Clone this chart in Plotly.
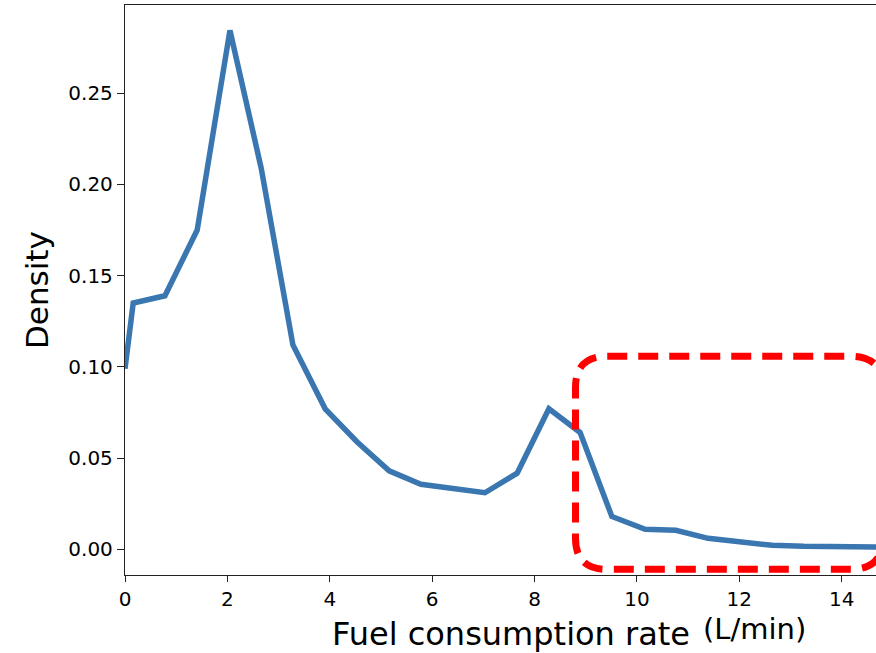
import plotly.graph_objects as go

# Kernel density estimate of fuel consumption rate
rate = [0.0, 0.16, 0.78, 1.41, 2.05, 2.66, 3.28, 3.91, 4.53, 5.16, 5.78, 6.41,
        7.03, 7.66, 8.28, 8.89, 9.51, 10.16, 10.76, 11.39, 12.01, 12.64, 13.26,
        13.89, 14.51, 15.14]
density = [0.099, 0.135, 0.139, 0.175, 0.2845, 0.209, 0.112, 0.077, 0.059,
           0.043, 0.0356, 0.033, 0.031, 0.0417, 0.077, 0.064, 0.018, 0.011,
           0.0104, 0.006, 0.0038, 0.0022, 0.0016, 0.0013, 0.0012, 0.0011]

x_ticks = [0, 2, 4, 6, 8, 10, 12, 14]
y_ticks = [0.00, 0.05, 0.10, 0.15, 0.20, 0.25]

# Highlighted tail region (data coordinates)
box_x0, box_x1 = 8.80, 14.80
box_y0, box_y1 = -0.011, 0.1058
rx, ry = 0.62, 0.017

font_family = "DejaVu Sans"

fig = go.Figure()
fig.add_trace(go.Scatter(
    x=rate, y=density, mode="lines",
    line=dict(color="#3a76b0", width=5.5),
    hoverinfo="skip", showlegend=False,
))

path = (
    f"M {box_x0 + rx} {box_y1} L {box_x1 - rx} {box_y1} "
    f"Q {box_x1} {box_y1} {box_x1} {box_y1 - ry} "
    f"L {box_x1} {box_y0 + ry} "
    f"Q {box_x1} {box_y0} {box_x1 - rx} {box_y0} "
    f"L {box_x0 + rx} {box_y0} "
    f"Q {box_x0} {box_y0} {box_x0} {box_y0 + ry} "
    f"L {box_x0} {box_y1 - ry} "
    f"Q {box_x0} {box_y1} {box_x0 + rx} {box_y1} Z"
)
fig.add_shape(type="path", path=path, xref="x", yref="y",
              line=dict(color="#ff0000", width=7, dash="20px,11px"),
              layer="above")

fig.update_layout(
    width=876, height=653,
    margin=dict(l=125, r=0, t=5, b=78),
    paper_bgcolor="white", plot_bgcolor="white",
    font=dict(family=font_family, color="black"),
    xaxis=dict(
        range=[0, 14.67], tickvals=x_ticks, ticktext=[str(v) for v in x_ticks],
        showgrid=False, zeroline=False, showline=True, linecolor="#222",
        linewidth=1.3, mirror=True, ticks="outside", ticklen=6, tickwidth=1.2,
        tickcolor="#222", tickfont=dict(size=20, family=font_family),
    ),
    yaxis=dict(
        range=[-0.0141, 0.2984], tickvals=y_ticks,
        ticktext=[f"{v:.2f}" for v in y_ticks],
        showgrid=False, zeroline=False, showline=True, linecolor="#222",
        linewidth=1.3, ticks="outside", ticklen=7, tickwidth=1.2,
        tickcolor="#222", tickfont=dict(size=20, family=font_family),
    ),
    annotations=[
        dict(text="Fuel consumption rate ",
             xref="paper", yref="paper", x=(330 - 125) / 751, y=-(634 - 575) / 570,
             xanchor="left", yanchor="middle", showarrow=False,
             font=dict(size=32, family=font_family, color="black")),
        dict(text="(L/min)",
             xref="paper", yref="paper", x=(808 - 125) / 751, y=-(629 - 575) / 570,
             xanchor="right", yanchor="middle", showarrow=False,
             font=dict(size=29, family=font_family, color="black")),
        dict(text="Density", xref="paper", yref="paper",
             x=-(125 - 37) / 751, y=(575 - 290) / 570, textangle=-90,
             xanchor="center", yanchor="middle", showarrow=False,
             font=dict(size=31, family=font_family, color="black")),
    ],
)

fig.write_html("out.html")
